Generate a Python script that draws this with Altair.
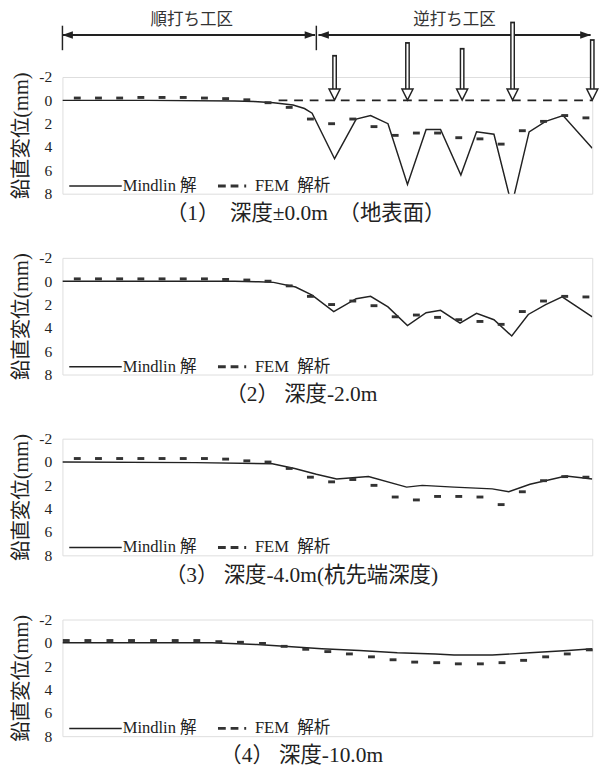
import altair as alt
import pandas as pd

FONT = "Liberation Serif, Noto Sans CJK JP"
INK = "#222"

# ---------------- data ----------------
fem_x = [3.5, 8.5, 13.5, 18.5, 23.5, 28.5, 33.5, 38.5, 43.5, 48.5, 53.5, 58.5, 63.5,
         68.5, 73.5, 78.5, 83.5, 88.5, 93.5, 98.5, 103.5, 108.5, 113.5, 118.5, 123.5]
fem_x4 = [0.9, 6.0, 11.2, 16.3, 21.5, 26.6, 31.7, 36.9, 42.0, 47.2, 52.3, 57.4, 62.6,
          67.7, 72.9, 78.0, 83.1, 88.3, 93.4, 98.6, 103.7, 108.8, 114.0, 119.1, 124.3]

m1_x = [0, 20, 40.6, 45.2, 49.8, 54.4, 57.1, 58.9, 64.2, 69.3, 72.7, 76.8, 81.4, 85.8,
        89.2, 94.0, 97.7, 101.8, 106.0, 110.1, 114.0, 118.1, 125.0]
m1_y = [0, 0, 0.05, 0.1, 0.2, 0.4, 0.7, 1.1, 5.0, 1.6, 1.3, 2.0, 7.2, 2.5,
        2.5, 6.4, 2.7, 2.9, 9.0, 2.7, 1.8, 1.3, 4.1]
f1_y = [-0.2, -0.2, -0.2, -0.25, -0.25, -0.25, -0.2, -0.15, -0.05, 0.2, 0.6, 1.6, 2.0,
        1.6, 2.25, 3.0, 2.8, 2.8, 3.2, 3.3, 3.75, 2.6, 1.8, 1.3, 1.5]

m2_x = [0, 40.6, 46.3, 49.8, 55.0, 58.9, 64.0, 69.3, 72.7, 76.8, 81.4, 85.8, 89.2,
        93.8, 97.7, 101.8, 106.0, 109.9, 114.0, 117.9, 125.0]
m2_y = [0, 0, 0.05, 0.1, 0.5, 1.2, 2.6, 1.5, 1.3, 2.2, 3.8, 2.7, 2.5,
        3.6, 2.75, 3.3, 4.7, 2.85, 2.0, 1.35, 3.05]
f2_y = [-0.2, -0.2, -0.2, -0.2, -0.2, -0.2, -0.2, -0.15, -0.1, 0.0, 0.4, 1.3, 2.0,
        1.7, 2.1, 3.05, 2.9, 3.1, 3.3, 3.45, 3.7, 2.6, 1.7, 1.3, 1.35]

m3_x = [0, 31.4, 49.5, 54.8, 59.9, 64.7, 72.2, 81.2, 84.9, 92.4, 101.4, 105.3, 110.3,
        118.8, 125.0]
m3_y = [0, 0.05, 0.15, 0.55, 1.05, 1.45, 1.25, 2.15, 2.0, 2.15, 2.3, 2.55, 1.9,
        1.2, 1.45]
f3_y = [-0.3, -0.3, -0.3, -0.3, -0.3, -0.3, -0.3, -0.25, -0.1, 0.0, 0.55, 1.3, 1.7,
        1.5, 2.0, 3.0, 3.25, 2.95, 2.95, 3.0, 3.65, 2.55, 1.6, 1.25, 1.3]

m4_x = [0, 25.5, 35.3, 45.9, 52.3, 61.2, 70.1, 79.0, 88.0, 92.4, 101.4, 110.3, 119.3, 125.0]
m4_y = [0, 0, 0.0, 0.15, 0.3, 0.5, 0.65, 0.85, 0.95, 1.05, 1.05, 0.85, 0.65, 0.5]
f4_y = [-0.2, -0.2, -0.2, -0.2, -0.2, -0.2, -0.2, -0.1, -0.05, 0.05, 0.3, 0.55, 0.75,
        0.95, 1.2, 1.45, 1.65, 1.7, 1.8, 1.8, 1.7, 1.5, 1.2, 0.95, 0.6]

titles = ["（1）\u3000深度±0.0m\u3000（地表面）", "（2） 深度-2.0m",
          "（3） 深度-4.0m(杭先端深度)", "（4） 深度-10.0m"]

# top annotation (construction zones and load arrows)
zone_labels = ["順打ち工区", "逆打ち工区"]
zone_start = [0.0, 60.4]
zone_end = [59.6, 124.6]
zone_mid = [30.5, 92.5]
zone_ticks = [0.0, 59.9]
arrow_x = [64.2, 81.4, 94.3, 106.2, 125.0]
arrow_top = [-3.9, -5.0, -4.5, -6.75, -5.25]
ref_line_x = [51.0, 125.0]

Y_ARROW = -5.6
Y_ZONE_TXT = -6.9
W, H = 545, 120

xenc = alt.X("x:Q", scale=alt.Scale(domain=[0, 125], nice=False, zero=False), axis=None)
yaxis = alt.Axis(values=[-2, 0, 2, 4, 6, 8], title="鉛直変位(mm)", labelExpr="'' + datum.value",
                 domain=False, ticks=False, grid=False, labelPadding=11, titlePadding=8,
                 labelFont=FONT, labelFontSize=16, labelColor=INK,
                 titleFont=FONT, titleFontSize=21, titleFontWeight="normal", titleColor=INK)
yscale = alt.Scale(domain=[-2, 8], reverse=True, nice=False, zero=False)


def Y(field="y"):
    return alt.Y(f"{field}:Q", scale=yscale, axis=yaxis)


def legend_layers():
    one = pd.DataFrame({"a": [0]})
    base = alt.Chart(one)
    ly = 112
    return [
        base.mark_rule(color=INK, strokeWidth=1.5).encode(
            x=alt.value(7), x2=alt.value(61), y=alt.value(ly)),
        base.mark_text(text="Mindlin 解", align="left", baseline="middle", font=FONT,
                       fontSize=17, color=INK).encode(x=alt.value(62), y=alt.value(ly)),
        base.mark_rule(color="#333", strokeWidth=3, strokeDash=[8, 5, 8, 6, 2, 60]).encode(
            x=alt.value(160), x2=alt.value(194), y=alt.value(ly)),
        base.mark_text(text="FEM\u2002解析", align="left", baseline="middle", font=FONT,
                       fontSize=17, color=INK).encode(x=alt.value(198), y=alt.value(ly)),
    ]


def panel(mx, my, fx, fy, title, top=False):
    mdf = pd.DataFrame({"x": mx, "y": my})
    fdf = pd.DataFrame({"x": fx, "y": fy})
    layers = []
    if top:
        rdf = pd.DataFrame({"x": [ref_line_x[0]], "x2": [ref_line_x[1]], "y": [0.0]})
        layers.append(alt.Chart(rdf).mark_rule(color=INK, strokeWidth=2, strokeDash=[9, 7]).encode(
            x=xenc, x2="x2:Q", y=Y()))
    layers.append(alt.Chart(mdf).mark_line(clip=True, color=INK, strokeWidth=1.5).encode(
        x=xenc, y=Y()))
    layers.append(alt.Chart(fdf).mark_point(
        shape="M-1,-0.42L1,-0.42L1,0.42L-1,0.42Z", filled=True, size=50, color="#333",
        opacity=1).encode(x=xenc, y=Y()))
    layers += legend_layers()
    if top:
        zdf = pd.DataFrame({"x": zone_start, "x2": zone_end, "y": [Y_ARROW] * 2})
        layers.append(alt.Chart(zdf).mark_rule(color=INK, strokeWidth=2, clip=False).encode(
            x=xenc, x2="x2:Q", y=Y()))
        hl = pd.DataFrame({"x": [zone_start[0] + 1.2, zone_start[1] + 1.2], "y": [Y_ARROW] * 2})
        hr = pd.DataFrame({"x": [zone_end[0] - 1.2, zone_end[1] - 1.2], "y": [Y_ARROW] * 2})
        layers.append(alt.Chart(hl).mark_point(shape="M-1,0L1,-0.7L1,0.7Z", filled=True,
                                               size=120, color=INK, opacity=1).encode(x=xenc, y=Y()))
        layers.append(alt.Chart(hr).mark_point(shape="M1,0L-1,-0.7L-1,0.7Z", filled=True,
                                               size=120, color=INK, opacity=1).encode(x=xenc, y=Y()))
        tdf = pd.DataFrame({"x": zone_ticks, "y": [-6.4] * 2, "y2": [-4.3] * 2})
        layers.append(alt.Chart(tdf).mark_rule(color=INK, strokeWidth=1.5).encode(
            x=xenc, y=Y(), y2="y2:Q"))
        txt = pd.DataFrame({"x": zone_mid, "y": [Y_ZONE_TXT] * 2, "t": zone_labels})
        layers.append(alt.Chart(txt).mark_text(font=FONT, fontSize=17, color="#333",
                                               baseline="middle").encode(x=xenc, y=Y(), text="t:N"))
        adf = pd.DataFrame({"x": arrow_x, "y": arrow_top, "y2": [-0.95] * 5})
        layers.append(alt.Chart(adf).mark_rule(color=INK, strokeWidth=5, strokeCap="butt").encode(
            x=xenc, y=Y(), y2="y2:Q"))
        adf2 = pd.DataFrame({"x": arrow_x, "y": [v + 0.15 for v in arrow_top], "y2": [-0.95] * 5})
        layers.append(alt.Chart(adf2).mark_rule(color="white", strokeWidth=2, strokeCap="butt").encode(
            x=xenc, y=Y(), y2="y2:Q"))
        head = pd.DataFrame({"x": arrow_x, "y": [-0.5] * 5})
        layers.append(alt.Chart(head).mark_point(shape="M-1,-1L1,-1L0,1Z", filled=True, fill="white",
                                                 stroke=INK, strokeWidth=1.5, size=130, opacity=1).encode(
            x=xenc, y=Y()))
    return alt.layer(*layers).properties(
        width=W, height=H,
        title=alt.TitleParams(title, orient="bottom", anchor="middle", frame="bounds", offset=2,
                              font=FONT, fontSize=22, fontWeight="normal", color=INK))


chart = alt.vconcat(
    panel(m1_x, m1_y, fem_x, f1_y, titles[0], top=True),
    panel(m2_x, m2_y, fem_x, f2_y, titles[1]),
    panel(m3_x, m3_y, fem_x, f3_y, titles[2]),
    panel(m4_x, m4_y, fem_x4, f4_y, titles[3]),
    spacing=25,
).configure_view(stroke="#999", strokeDash=[2, 2], strokeWidth=1.2
).configure(background="white", padding={"left": 2, "top": -9, "right": 0, "bottom": 0})

chart.save("out.html", embed_options={"renderer": "svg", "actions": False})
